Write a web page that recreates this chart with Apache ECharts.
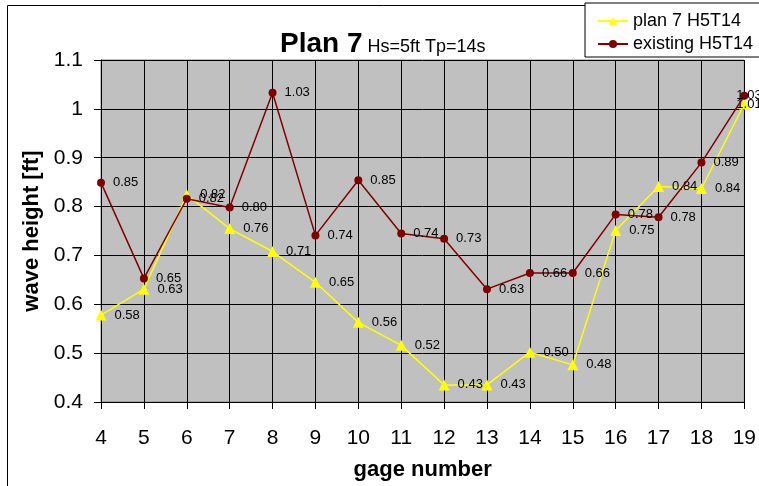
<!DOCTYPE html>
<html>
<head>
    <meta charset="utf-8">
    <title>index</title>
    <style>
        html, body { margin: 0; padding: 0; background: #fff; }
    </style>
</head>
<body>
    <div id="main" style="width: 759px;height:486px;"></div>
    <script src="https://cdn.jsdelivr.net/npm/echarts@6/dist/echarts.min.js"></script>
    <script>
        // 数据
        var gages = ['4', '5', '6', '7', '8', '9', '10', '11', '12', '13', '14', '15', '16', '17', '18', '19'];
        var plan7 = [0.578, 0.631, 0.824, 0.755, 0.708, 0.645, 0.563, 0.516, 0.435, 0.435, 0.502, 0.476, 0.751, 0.841, 0.837, 1.01];
        var existing = [0.849, 0.653, 0.816, 0.798, 1.033, 0.741, 0.854, 0.745, 0.734, 0.631, 0.664, 0.664, 0.784, 0.778, 0.89, 1.027];

        var font = 'Liberation Sans, Arial, sans-serif';
        var myChart = echarts.init(document.getElementById('main'));

        function lbl(p) {
            return p.value.toFixed(2);
        }

        // 最后一个点的标签压在点上（被右边裁掉）
        function withLastLabel(arr, half) {
            return arr.map(function (v, i) {
                if (i !== arr.length - 1) return v;
                return {
                    value: v,
                    label: { position: [half - 8, half], align: 'left', verticalAlign: 'middle' }
                };
            });
        }

        var option = {
            backgroundColor: '#fff',
            animation: false,
            textStyle: { fontFamily: font },
            // 外框
            graphic: [{
                type: 'rect',
                shape: { x: 7.5, y: 5.5, width: 800, height: 600 },
                style: { fill: 'none', stroke: '#000', lineWidth: 1 },
                z: -10
            }],
            title: {
                text: '{a|Plan 7} {b|Hs=5ft Tp=14s}',
                left: 280,
                top: 30,
                padding: 0,
                textStyle: {
                    rich: {
                        a: { fontSize: 28, fontWeight: 'bold', color: '#000', fontFamily: font },
                        b: { fontSize: 18, fontWeight: 'normal', color: '#000', fontFamily: font, padding: [7, 0, 0, 0] }
                    }
                }
            },
            legend: {
                left: 585,
                top: 3,
                orient: 'vertical',
                backgroundColor: '#fff',
                borderColor: '#000',
                borderWidth: 1,
                padding: [8, 30, 3, 12],
                itemGap: 3,
                itemWidth: 30,
                itemHeight: 10,
                textStyle: { fontSize: 18, lineHeight: 20, color: '#000', fontFamily: font },
                data: ['plan 7 H5T14', 'existing H5T14']
            },
            grid: {
                left: 101,
                right: 9,
                top: 60,
                bottom: 83,
                show: true,
                backgroundColor: '#c0c0c0',
                borderColor: '#808080',
                borderWidth: 1
            },
            xAxis: {
                type: 'category',
                data: gages,
                boundaryGap: false,
                name: 'gage number',
                nameLocation: 'middle',
                nameGap: 57,
                nameTextStyle: { fontSize: 22, fontWeight: 'bold', color: '#000', fontFamily: font },
                axisLine: { lineStyle: { color: '#000', width: 1 } },
                axisTick: { show: true, length: 7, inside: false, lineStyle: { color: '#000' } },
                axisLabel: { fontSize: 21, color: '#000', margin: 26, fontFamily: font, showMaxLabel: true },
                splitLine: { show: true, lineStyle: { color: '#000', width: 1 } }
            },
            yAxis: {
                type: 'value',
                min: 0.4,
                max: 1.1,
                interval: 0.1,
                name: 'wave height [ft]',
                nameLocation: 'middle',
                nameGap: 56,
                nameTextStyle: { fontSize: 22, fontWeight: 'bold', color: '#000', fontFamily: font },
                axisLine: { show: true, lineStyle: { color: '#000', width: 1 } },
                axisTick: { show: true, length: 7, lineStyle: { color: '#000' } },
                axisLabel: {
                    fontSize: 21, color: '#000', margin: 18, fontFamily: font,
                    formatter: function (v) { return String(Math.round(v * 10) / 10); }
                },
                splitLine: { show: true, lineStyle: { color: '#000', width: 1 } }
            },
            series: [
                {
                    name: 'plan 7 H5T14',
                    type: 'line',
                    data: withLastLabel(plan7, 5.5),
                    symbol: 'triangle',
                    symbolSize: 11,
                    itemStyle: { color: '#ffff00' },
                    lineStyle: { color: '#ffff00', width: 1.5 },
                    label: {
                        show: true, position: 'right', distance: 8,
                        fontSize: 13, color: '#000', fontFamily: font,
                        formatter: lbl
                    },
                    z: 3
                },
                {
                    name: 'existing H5T14',
                    type: 'line',
                    data: withLastLabel(existing, 4),
                    symbol: 'circle',
                    symbolSize: 8,
                    itemStyle: { color: '#800000' },
                    lineStyle: { color: '#800000', width: 1.5 },
                    label: {
                        show: true, position: 'right', distance: 8,
                        fontSize: 13, color: '#000', fontFamily: font,
                        formatter: lbl
                    },
                    z: 4
                }
            ]
        };

        myChart.setOption(option);
    </script>
</body>
</html>
